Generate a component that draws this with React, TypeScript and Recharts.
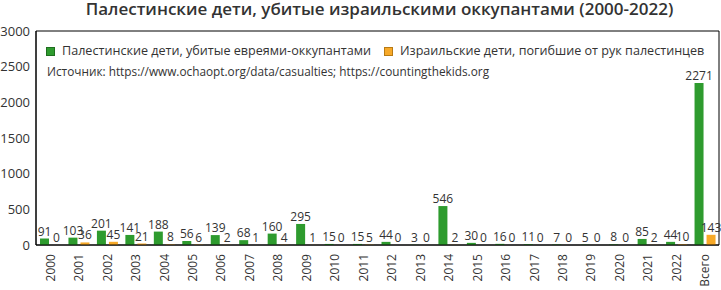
import React from 'react';
import { BarChart, Bar, XAxis, YAxis, LabelList, ReferenceArea } from 'recharts';

// Years on the x axis, plus the total column at the end
const years = [
  '2000', '2001', '2002', '2003', '2004', '2005', '2006', '2007', '2008', '2009', '2010', '2011',
  '2012', '2013', '2014', '2015', '2016', '2017', '2018', '2019', '2020', '2021', '2022', 'Всего',
];

// Palestinian children killed
const palestinian = [91, 103, 201, 141, 188, 56, 139, 68, 160, 295, 15, 15, 44, 3, 546, 30, 16, 11, 7, 5, 8, 85, 44, 2271];

// Israeli children killed
const israeli = [0, 36, 45, 21, 8, 6, 2, 1, 4, 1, 0, 5, 0, 0, 2, 0, 0, 0, 0, 0, 0, 2, 10, 143];

const yTicks = [0, 500, 1000, 1500, 2000, 2500, 3000];

const GREEN = '#2e9b2e';
const ORANGE = '#f7a928';
const TEXT = '#333';
const FONT = '"Open Sans", sans-serif';

const data = years.map((year, i) => ({ year, pal: palestinian[i], isr: israeli[i] }));

// Rotated year label, centred on the band
const YearTick = ({ x, y, payload }: any) => (
  <text
    x={x}
    y={y}
    transform={`rotate(-90 ${x} ${y})`}
    textAnchor="end"
    dominantBaseline="central"
    fontSize={12}
    fill={TEXT}
    fontFamily={FONT}
  >
    {payload.value}
  </text>
);

const LegendItem = ({ color, border, label }: { color: string; border: string; label: string }) => (
  <span style={{ display: 'inline-flex', alignItems: 'center', marginRight: 13 }}>
    <span
      style={{
        display: 'inline-block',
        width: 7,
        height: 7,
        background: color,
        border: `1px solid ${border}`,
        marginRight: 7,
      }}
    />
    {label}
  </span>
);

export default function App() {
  return (
    <div style={{ position: 'absolute', left: 0, top: 0, width: 721, height: 290, fontFamily: FONT, color: TEXT }}>
      <BarChart
        width={721}
        height={290}
        data={data}
        margin={{ top: 31, right: 2, bottom: 0, left: 0 }}
        barSize={9}
        barGap={3}
      >
        <XAxis
          dataKey="year"
          height={45}
          interval={0}
          tickLine={false}
          tickMargin={3}
          axisLine={{ stroke: '#000' }}
          tick={<YearTick />}
        />
        <YAxis
          width={36}
          domain={[0, 3000]}
          ticks={yTicks}
          tickLine={false}
          tickSize={4}
          tickMargin={2}
          axisLine={{ stroke: '#000' }}
          tick={{ fontSize: 13, fill: TEXT, fontFamily: FONT }}
        />
        <ReferenceArea y1={0} y2={3000} fill="none" stroke="#000" strokeWidth={1} />
        <Bar dataKey="pal" fill={GREEN} minPointSize={0.01} isAnimationActive={false}>
          <LabelList dataKey="pal" position="top" offset={3} fontSize={12} fill={TEXT} fontFamily={FONT} />
        </Bar>
        <Bar dataKey="isr" fill={ORANGE} minPointSize={0.01} isAnimationActive={false}>
          <LabelList dataKey="isr" position="top" offset={3} fontSize={12} fill={TEXT} fontFamily={FONT} />
        </Bar>
      </BarChart>

      <div
        style={{
          position: 'absolute',
          left: 38,
          top: 0,
          width: 683,
          textAlign: 'center',
          fontSize: 17,
          fontWeight: 600,
          lineHeight: '18px',
        }}
      >
        Палестинские дети, убитые израильскими оккупантами (2000-2022)
      </div>

      <div style={{ position: 'absolute', left: 46, top: 43, fontSize: 12.6, lineHeight: '16px', whiteSpace: 'nowrap' }}>
        <LegendItem color={GREEN} border="#1f6e1f" label="Палестинские дети, убитые евреями-оккупантами" />
        <LegendItem color={ORANGE} border="#b87a14" label="Израильские дети, погибшие от рук палестинцев" />
      </div>

      <div style={{ position: 'absolute', left: 47, top: 63, fontSize: 11.8, lineHeight: '16px', whiteSpace: 'nowrap' }}>
        Источник: https://www.ochaopt.org/data/casualties; https://countingthekids.org
      </div>
    </div>
  );
}
